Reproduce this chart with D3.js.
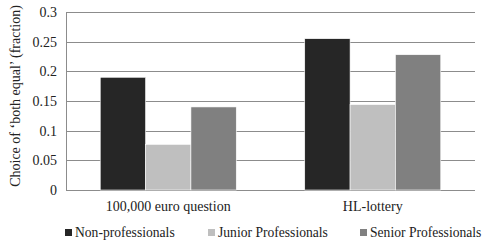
<!DOCTYPE html>
<html>
<head>
<meta charset="utf-8">
<script src="https://cdn.jsdelivr.net/npm/d3@7"></script>
<style>
  body { margin: 0; background: #fff; }
</style>
</head>
<body>
<svg width="482" height="243"></svg>
<script>
const categories = ['100,000 euro question', 'HL-lottery'];
const series = ['Non-professionals', 'Junior Professionals', 'Senior Professionals'];
const nonPro = [0.19, 0.255];
const juniorPro = [0.077, 0.144];
const seniorPro = [0.14, 0.228];
const yTicks = [0, 0.05, 0.1, 0.15, 0.2, 0.25, 0.3];
const colors = ['#262626', '#bfbfbf', '#808080'];

const values = [nonPro, juniorPro, seniorPro];

const margin = {left: 66, right: 7, top: 12, bottom: 53};
const width = 482, height = 243;

const svg = d3.select('svg');

// serif text helper
function label(sel, size = 14) {
  return sel
    .attr('font-family', 'Liberation Serif')
    .style('font-family', 'Liberation Serif')
    .attr('font-size', size)
    .attr('fill', '#222');
}

const x = d3.scaleBand()
  .domain(categories)
  .range([margin.left, width - margin.right]);

const xs = d3.scaleBand()
  .domain(series)
  .range([0, x.bandwidth()])
  .paddingOuter(0.755)
  .paddingInner(0);

const y = d3.scaleLinear()
  .domain([0, 0.3])
  .range([height - margin.bottom, margin.top]);

// gridlines
svg.append('g')
  .selectAll('line')
  .data(yTicks)
  .join('line')
    .attr('x1', margin.left)
    .attr('x2', width - margin.right)
    .attr('y1', d => Math.round(y(d)) + 0.5)
    .attr('y2', d => Math.round(y(d)) + 0.5)
    .attr('stroke', '#8c8c8c')
    .attr('stroke-width', 1);

// y axis line
svg.append('line')
  .attr('x1', margin.left + 0.5)
  .attr('x2', margin.left + 0.5)
  .attr('y1', y(0.3))
  .attr('y2', y(0))
  .attr('stroke', '#8c8c8c');

// y tick labels
svg.append('g')
  .selectAll('text')
  .data(yTicks)
  .join('text')
    .call(label)
    .attr('x', margin.left - 9)
    .attr('y', d => y(d))
    .attr('dy', '0.35em')
    .attr('text-anchor', 'end')
    .text(d => d3.format('~g')(d));

// bars
series.forEach((s, si) => {
  svg.append('g')
    .selectAll('rect')
    .data(categories)
    .join('rect')
      .attr('x', c => x(c) + xs(s))
      .attr('width', xs.bandwidth())
      .attr('y', (c, i) => y(values[si][i]))
      .attr('height', (c, i) => y(0) - y(values[si][i]))
      .attr('fill', colors[si])
      .attr('stroke', '#fff')
      .attr('stroke-width', 0.6);
});

// category labels
svg.append('g')
  .selectAll('text')
  .data(categories)
  .join('text')
    .call(label)
    .attr('x', d => x(d) + x.bandwidth() / 2)
    .attr('y', 211)
    .attr('text-anchor', 'middle')
    .text(d => d);

// y label
svg.append('text')
  .call(label)
  .attr('transform', 'translate(20,96) rotate(-90)')
  .attr('text-anchor', 'middle')
  .text('Choice of \u2018both equal\u2019 (fraction)');

// legend
const legendX = [65, 208, 360];
const legend = svg.append('g')
  .selectAll('g')
  .data(series)
  .join('g')
    .attr('transform', (d, i) => 'translate(' + legendX[i] + ',237)');
legend.append('rect')
  .attr('x', 0)
  .attr('y', -8)
  .attr('width', 7)
  .attr('height', 7)
  .attr('fill', (d, i) => colors[i]);
legend.append('text')
  .call(label, 13.6)
  .attr('x', 10)
  .attr('y', 0)
  .text(d => d);
</script>
</body>
</html>
